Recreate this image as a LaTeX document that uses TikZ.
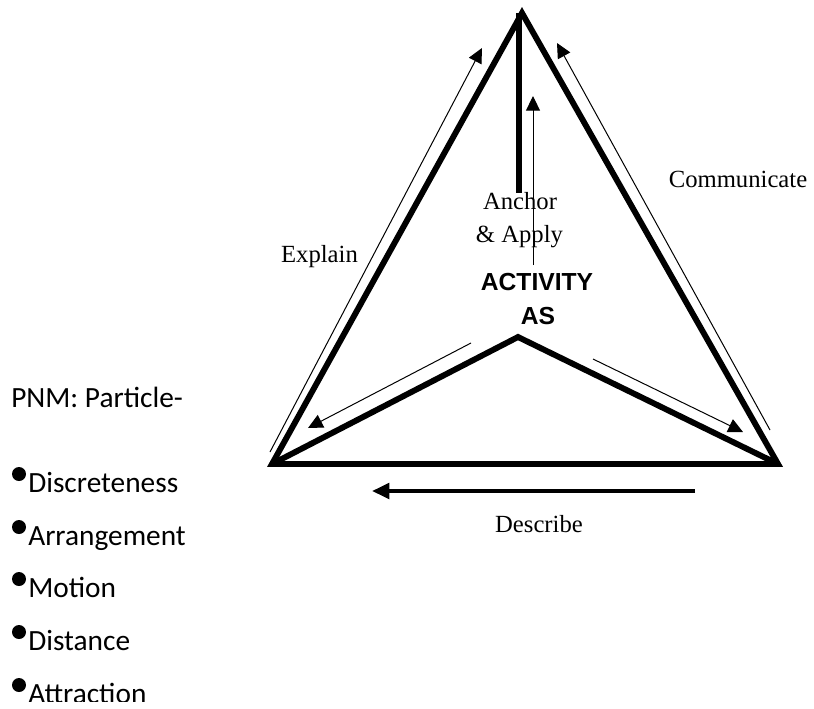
\documentclass[tikz,border=0pt]{standalone}
\usepackage{fontspec}
\setmainfont{Liberation Serif}
\newfontfamily\arialfont{Liberation Sans}
\newfontfamily\calfont{Carlito}
\usetikzlibrary{arrows.meta}
\begin{document}
\begin{tikzpicture}[x=0.75pt,y=-0.75pt,
  edge/.style={line width=4.4pt, line join=miter},
  thinarrow/.style={line width=0.75pt, -{Triangle[length=11pt,width=10.5pt]}},
  lbl/.style={font=\fontsize{18.5}{22}\selectfont, inner sep=0pt, anchor=base},
  act/.style={font=\arialfont\bfseries\fontsize{18.5}{22}\selectfont, inner sep=0pt, anchor=base},
  item/.style={font=\calfont\fontsize{22}{26}\selectfont, inner sep=0pt, anchor=base west},
  dot/.style={circle, fill=black, minimum size=10.5pt, inner sep=0pt}
]
\useasboundingbox (0,0) rectangle (814,708);
% triangle
\coordinate (A) at (522,13);
\coordinate (L) at (272,464);
\coordinate (R) at (778,464);
\coordinate (C) at (518,337);
\draw[edge] (L) -- (A) -- (R) -- cycle;
\draw[edge] (L) -- (C) -- (R);
\coordinate (vt) at (519,13);
\coordinate (vb) at (519,193);
\draw[line width=4.6pt] (vt) -- (vb);
% thin arrows
\coordinate (ex1) at (270,452); \coordinate (ex2) at (482,48);
\draw[thinarrow] (ex1) -- (ex2);
\coordinate (co1) at (770,430); \coordinate (co2) at (557,43);
\draw[thinarrow] (co1) -- (co2);
\coordinate (an1) at (533,265); \coordinate (an2) at (533,96);
\draw[thinarrow] (an1) -- (an2);
\coordinate (il1) at (471,343); \coordinate (il2) at (308,428);
\draw[thinarrow] (il1) -- (il2);
\coordinate (ir1) at (593,359); \coordinate (ir2) at (743,432);
\draw[thinarrow] (ir1) -- (ir2);
\coordinate (de1) at (695,491); \coordinate (de2) at (372,491);
\draw[line width=3pt, -{Triangle[length=13pt,width=11.5pt]}] (de1) -- (de2);
% labels
\node[lbl] (explain) at (319.5,262) {Explain};
\node[lbl] (anchor) at (520,209) {Anchor};
\node[lbl] (apply) at (519.5,242) {\& Apply};
\node[act] (activity) at (537,290) {ACTIVITY};
\node[act] (as) at (538,324) {AS};
\node[lbl] (comm) at (738,187) {Communicate};
\node[lbl] (desc) at (539,532) {Describe};
% list
\node[item] (pnm) at (11,407) {PNM: Particle-};
\begin{scope}
\clip (0,0) rectangle (814,701);
\node[dot] (b1) at (19,474) {};
\node[item] (t1) at (28,492) {Discreteness};
\node[dot] (b2) at (19,527) {};
\node[item] (t2) at (28,545) {Arrangement};
\node[dot] (b3) at (19,579) {};
\node[item] (t3) at (28,597) {Motion};
\node[dot] (b4) at (19,632) {};
\node[item] (t4) at (28,650) {Distance};
\node[dot] (b5) at (19,685) {};
\node[item] (t5) at (28,703) {Attraction};
\end{scope}
\end{tikzpicture}
\end{document}
